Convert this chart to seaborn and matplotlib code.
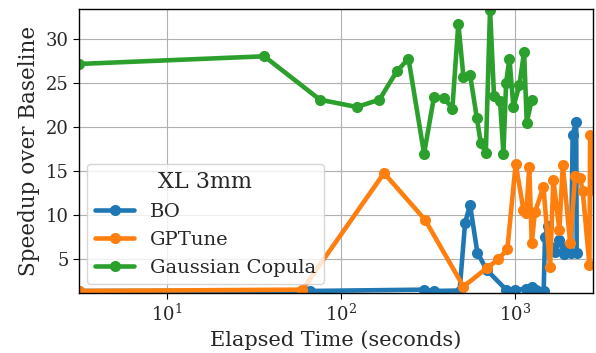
import numpy as np
import pandas as pd
import matplotlib
matplotlib.use("Agg")
import matplotlib.pyplot as plt
import seaborn as sns

# Elapsed time (s) and speedup for each tuner
bo_time = [3.12, 66, 300, 340, 480, 516, 551, 607, 687, 888, 1000, 1150, 1247,
           1320, 1460, 1486, 1540, 1600, 1700, 1800, 1900, 2000, 2100, 2142, 2245, 2260]
bo_speedup = [1.35, 1.35, 1.5, 1.35, 1.4, 9.07, 11.15, 5.72, 3.74, 1.5, 1.45, 1.6, 1.8,
              1.5, 1.4, 7.5, 8.7, 6.3, 5.8, 7.2, 5.6, 6.4, 5.65, 19.1, 20.6, 5.65]

gptune_time = [3.12, 60, 176.6, 304, 505, 687, 802, 903, 1008, 1117, 1160, 1207, 1247,
               1300, 1455, 1589, 1660, 1797, 1880, 2072, 2213, 2365, 2448, 2675, 2700, 2850]
gptune_speedup = [1.35, 1.5, 14.76, 9.44, 1.85, 3.94, 4.95, 6.1, 15.82, 10.58, 10.2, 15.5, 6.79,
                  10.3, 13.2, 4.05, 14.0, 8.3, 15.7, 6.79, 14.4, 14.2, 12.67, 4.3, 19.1, 12.86]

copula_time = [3.12, 36.2, 75.7, 123, 166, 209, 244, 300, 342, 391, 436, 472, 505, 551,
               603, 635, 679, 718, 757, 820, 857, 888, 928, 978, 1059, 1127, 1167, 1247]
copula_speedup = [27.17, 28.04, 23.1, 22.28, 23.1, 26.33, 27.78, 16.96, 23.42, 23.3, 22.08,
                  31.77, 25.7, 25.96, 21.03, 18.18, 17.04, 33.36, 23.49, 22.9, 16.96, 25.0,
                  27.78, 22.28, 24.8, 28.54, 20.5, 23.1]

methods = ["BO", "GPTune", "Gaussian Copula"]

df = pd.concat([
    pd.DataFrame({"time": bo_time, "speedup": bo_speedup, "method": methods[0]}),
    pd.DataFrame({"time": gptune_time, "speedup": gptune_speedup, "method": methods[1]}),
    pd.DataFrame({"time": copula_time, "speedup": copula_speedup, "method": methods[2]}),
], ignore_index=True)

sns.set_style("ticks")
plt.rcParams["font.family"] = ["DejaVu Serif"]

fig = plt.figure(figsize=(5.96, 3.53), dpi=100)
ax = fig.add_axes([0.1326, 0.170, 0.8624, 0.804])

sns.lineplot(data=df, x="time", y="speedup", hue="method", hue_order=methods,
             palette=["#1f77b4", "#ff7f0e", "#2ca02c"], marker="o", markersize=8,
             markeredgewidth=0, linewidth=3.3, estimator=None, sort=True, ax=ax)

ax.set_xscale("log")
ax.set_xlim(3.12, 2805)
ax.set_ylim(1.12, 33.4)
ax.set_yticks([5, 10, 15, 20, 25, 30])
ax.minorticks_off()
ax.grid(True, color="#b0b0b0", linewidth=0.8)
for s in ax.spines.values():
    s.set_color("black")
    s.set_linewidth(1.0)
ax.tick_params(axis="both", labelsize=13, color="black", length=4)
ax.set_xlabel("Elapsed Time (seconds)", fontsize=15)
ax.set_ylabel("Speedup over Baseline", fontsize=15.5)

leg = ax.legend(title="XL 3mm", loc="lower left", fontsize=14, title_fontsize=16,
                framealpha=0.8, borderaxespad=0.3, bbox_to_anchor=(0.005, 0.01))

fig.savefig("out.png", dpi=100)
